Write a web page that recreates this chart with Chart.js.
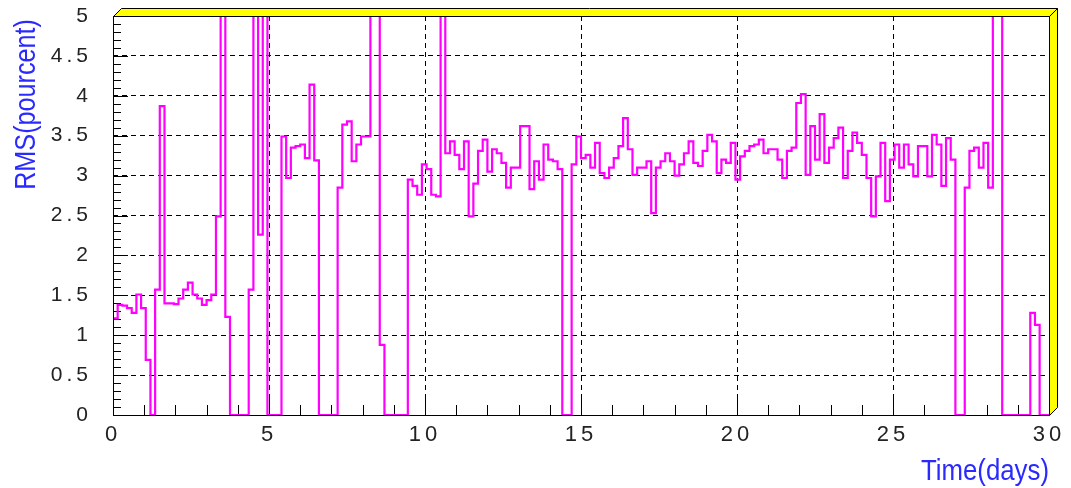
<!DOCTYPE html>
<html>
<head>
<meta charset="utf-8">
<script src="https://cdn.jsdelivr.net/npm/chart.js@4.4.1/dist/chart.umd.min.js"></script>
<style>
  html, body { margin: 0; padding: 0; background: #fff; }
  canvas { display: block; }
</style>
</head>
<body>
<canvas id="rmsChart" width="1071" height="488"></canvas>
<script>
// histogram bins of 0.15 day (5.6 = off scale, clipped)
const BIN_DAYS = 0.15;
const rmsDays0to6 = [
  1.21, 1.38, 1.37, 1.34, 1.28, 1.51, 1.34, 0.69, 0, 1.57,
  3.87, 1.40, 1.40, 1.39, 1.46, 1.57, 1.66, 1.51, 1.46, 1.38,
  1.44, 1.51, 2.49, 5.6, 1.23, 0, 0, 0, 0, 1.57,
  5.6, 2.26, 5.6, 0, 0, 0, 3.49, 2.97, 3.35, 3.37
];
const rmsDays6to12 = [
  3.39, 3.22, 4.14, 3.19, 0, 0, 0, 0, 2.85, 3.64,
  3.68, 3.18, 3.39, 3.49, 3.49, 5.6, 5.6, 0.88, 0, 0,
  0, 0, 0, 2.95, 2.87, 2.76, 3.14, 3.08, 2.76, 2.74,
  5.6, 3.28, 3.43, 3.26, 3.08, 3.43, 2.49, 2.90, 3.31, 3.45
];
const rmsDays12to18 = [
  3.05, 3.33, 3.28, 3.16, 2.85, 3.10, 3.10, 3.62, 3.62, 2.83,
  3.18, 2.95, 3.39, 3.20, 3.18, 3.08, 0, 0, 3.14, 3.49,
  3.22, 3.26, 3.10, 3.41, 3.03, 2.97, 3.10, 3.22, 3.37, 3.72,
  3.33, 3.01, 3.10, 3.10, 3.18, 2.53, 3.10, 3.18, 3.28, 3.18
];
const rmsDays18to24 = [
  3.00, 3.14, 3.28, 3.43, 3.16, 3.12, 3.31, 3.51, 3.43, 3.03,
  3.20, 3.16, 3.41, 2.95, 3.24, 3.31, 3.37, 3.39, 3.45, 3.28,
  3.33, 3.33, 3.20, 2.97, 3.31, 3.35, 3.91, 4.02, 3.01, 3.62,
  3.20, 3.77, 3.16, 3.35, 3.47, 3.60, 2.97, 3.31, 3.54, 3.41
];
const rmsDays24to30 = [
  3.26, 2.97, 2.49, 2.99, 3.41, 2.68, 3.20, 3.39, 3.10, 3.39,
  3.14, 2.99, 3.37, 3.37, 2.99, 3.51, 3.39, 2.87, 3.47, 3.20,
  0, 0, 2.85, 3.31, 3.35, 3.10, 3.41, 2.85, 5.6, 5.6,
  0, 0, 0, 0, 0, 0, 1.28, 1.13, 0, 0
];
const xTicks = [0, 5, 10, 15, 20, 25, 30];
const yTicks = [0, 0.5, 1, 1.5, 2, 2.5, 3, 3.5, 4, 4.5, 5];

const rms = [].concat(rmsDays0to6, rmsDays6to12, rmsDays12to18, rmsDays18to24, rmsDays24to30);
const points = rms.map((v, i) => ({ x: +(i * BIN_DAYS).toFixed(2), y: v }));
points.push({ x: 30, y: rms[rms.length - 1] }); // close last bin

const rootFrame = {
  id: 'rootFrame',
  beforeDraw(chart) {
    chart.ctx.letterSpacing = '4px';
  },
  beforeDatasetsDraw(chart) {
    // ROOT draws ticks inward
    const { ctx, chartArea: a, scales: { x, y } } = chart;
    ctx.save();
    ctx.strokeStyle = '#000';
    ctx.lineWidth = 1;
    ctx.beginPath();
    for (let d = 0; d <= 30; d++) {
      const px = Math.round(x.getPixelForValue(d)) + 0.5;
      const len = d % 5 === 0 ? 20 : 10;
      ctx.moveTo(px, a.bottom);
      ctx.lineTo(px, a.bottom - len);
    }
    for (let k = 0; k <= 50; k++) {
      const py = Math.round(y.getPixelForValue(k / 10)) + 0.5;
      const len = k % 5 === 0 ? 15 : 8;
      ctx.moveTo(a.left, py);
      ctx.lineTo(a.left + len, py);
    }
    ctx.stroke();
    ctx.restore();
  },
  afterDatasetsDraw(chart) {
    const { ctx, chartArea: a } = chart;
    const L = Math.round(a.left) + 0.5, R = Math.round(a.right) + 0.5;
    const T = Math.round(a.top) + 0.5, B = Math.round(a.bottom) + 0.5;
    const d = 8;
    ctx.save();
    ctx.fillStyle = '#ffff00';
    ctx.strokeStyle = '#000';
    ctx.lineWidth = 1;
    ctx.beginPath();
    ctx.moveTo(L, T); ctx.lineTo(L + d, T - d); ctx.lineTo(R + d, T - d); ctx.lineTo(R, T);
    ctx.closePath();
    ctx.fill(); ctx.stroke();
    ctx.beginPath();
    ctx.moveTo(R, T); ctx.lineTo(R + d, T - d); ctx.lineTo(R + d, B - d); ctx.lineTo(R, B);
    ctx.closePath();
    ctx.fill(); ctx.stroke();
    ctx.strokeRect(L, T, R - L, B - T);
    ctx.restore();
  },
  afterDraw(chart) {
    const { ctx, chartArea: a } = chart;
    ctx.save();
    ctx.letterSpacing = '0px';
    ctx.fillStyle = '#2a2aff';
    ctx.font = '30px "Liberation Sans", Arial, sans-serif';
    ctx.textBaseline = 'alphabetic';
    ctx.textAlign = 'right';
    // y title, rotated, ends at top of axis
    ctx.save();
    ctx.translate(35, a.top + 3);
    ctx.rotate(-Math.PI / 2);
    ctx.scale(0.84, 1);
    ctx.fillText('RMS(pourcent)', 0, 0);
    ctx.restore();
    // x title, right end under axis end
    ctx.save();
    ctx.translate(a.right, 480);
    ctx.scale(0.86, 1);
    ctx.fillText('Time(days)', 0, 0);
    ctx.restore();
    ctx.restore();
  }
};

new Chart(document.getElementById('rmsChart'), {
  type: 'line',
  data: {
    datasets: [{
      data: points,
      stepped: 'before',
      borderColor: '#ff00ff',
      borderWidth: 2.2,
      borderJoinStyle: 'miter',
      pointRadius: 0,
      fill: false
    }]
  },
  options: {
    responsive: false,
    animation: false,
    devicePixelRatio: 1,
    layout: { padding: { left: 0, top: 16, right: 22, bottom: 0 } },
    plugins: { legend: { display: false }, tooltip: { enabled: false } },
    scales: {
      x: {
        type: 'linear',
        min: 0,
        max: 30,
        afterBuildTicks: s => { s.ticks = xTicks.map(v => ({ value: v })); },
        afterFit: s => { s.height = 73; },
        ticks: {
          padding: 0,
          maxRotation: 0,
          autoSkip: false,
          color: '#222',
          font: { family: '"Liberation Sans", Arial, sans-serif', size: 22 },
          callback: v => String(v)
        },
        grid: {
          drawTicks: true,
          tickLength: 7,
          tickColor: 'rgba(0,0,0,0)',
          lineWidth: 1,
          color: c => (c.tick && c.tick.value > 0 && c.tick.value < 30) ? '#000' : 'rgba(0,0,0,0)',
          borderDash: [5, 4]
        },
        border: { display: false, dash: [5, 4] }
      },
      y: {
        min: 0,
        max: 5,
        afterBuildTicks: s => { s.ticks = yTicks.map(v => ({ value: v })); },
        afterFit: s => { s.width = 113; },
        ticks: {
          padding: 0,
          autoSkip: false,
          color: '#222',
          font: { family: '"Liberation Sans", Arial, sans-serif', size: 21 },
          callback: v => String(v)
        },
        grid: {
          drawTicks: true,
          tickLength: 21,
          tickColor: 'rgba(0,0,0,0)',
          lineWidth: 1,
          color: c => (c.tick && c.tick.value > 0 && c.tick.value < 5) ? '#000' : 'rgba(0,0,0,0)',
          borderDash: [5, 4]
        },
        border: { display: false, dash: [5, 4] }
      }
    }
  },
  plugins: [rootFrame]
});
</script>
</body>
</html>
